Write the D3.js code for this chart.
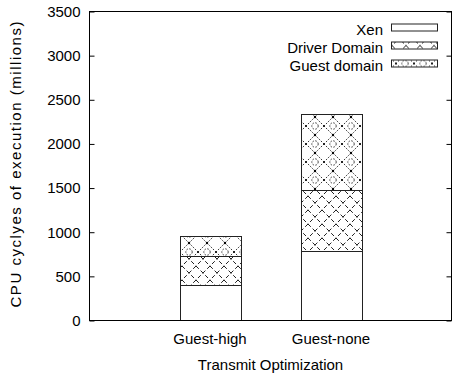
<!DOCTYPE html>
<html>
<head>
<meta charset="utf-8">
<script src="https://cdn.jsdelivr.net/npm/d3@7"></script>
<style>
body { margin: 0; background: #fff; }
text { font-family: "Liberation Sans", Arial, sans-serif; font-size: 15px; fill: #000; }
</style>
</head>
<body>
<script>
// data
var categories = ["Guest-high", "Guest-none"]
var seriesNames = ["Xen", "Driver Domain", "Guest domain"]
var xenVals = [396, 780]
var driverVals = [332, 690]
var guestVals = [223, 865]
var yTicks = [0, 500, 1000, 1500, 2000, 2500, 3000, 3500]

var svgWidth = 452
var svgHeight = 380
// note: "top" is a reserved window property, so use plot* names
var plotLeft = 89, plotRight = 452, plotTop = 11, plotBottom = 320

var svg = d3.select("body").append("svg")
    .attr("width", svgWidth)
    .attr("height", svgHeight)

var defs = svg.append("defs")

// driver domain: dashed cross hatch
var p1 = defs.append("pattern")
    .attr("id", "pat-driver")
    .attr("patternUnits", "userSpaceOnUse")
    .attr("width", 14).attr("height", 14)
p1.append("rect").attr("width", 14).attr("height", 14).attr("fill", "white")
p1.append("path")
    .attr("d", "M0,0 L14,14 M14,0 L0,14")
    .attr("stroke", "#222").attr("stroke-width", 1)
    .attr("stroke-dasharray", "4,2.5")

// guest domain: dotted diamond lattice with little rings
var p2 = defs.append("pattern")
    .attr("id", "pat-guest")
    .attr("patternUnits", "userSpaceOnUse")
    .attr("width", 18).attr("height", 18)
p2.append("rect").attr("width", 18).attr("height", 18).attr("fill", "white")
p2.append("path")
    .attr("d", "M0,0 L18,18 M18,0 L0,18")
    .attr("stroke", "#222").attr("stroke-width", 1)
    .attr("stroke-dasharray", "1.5,1.5")
p2.append("circle")
    .attr("cx", 9).attr("cy", 0).attr("r", 3.2)
    .attr("fill", "none").attr("stroke", "#333").attr("stroke-dasharray", "1.5,1.5")
p2.append("circle")
    .attr("cx", 9).attr("cy", 18).attr("r", 3.2)
    .attr("fill", "none").attr("stroke", "#333").attr("stroke-dasharray", "1.5,1.5")
p2.append("circle")
    .attr("cx", 9).attr("cy", 9).attr("r", 1.2).attr("fill", "#000")

var fills = ["white", "url(#pat-driver)", "url(#pat-guest)"]

var x = d3.scaleLinear().domain([-1, 2]).range([plotLeft, plotRight])
var y = d3.scaleLinear().domain([0, 3500]).range([plotBottom, plotTop])
var barW = x(0.5) - x(0)

// stack
var rows = categories.map(function(c, i) {
    return { cat: c, xen: xenVals[i], driver: driverVals[i], guest: guestVals[i] }
})
var stack = d3.stack().keys(["xen", "driver", "guest"])(rows)

stack.forEach(function(layer, li) {
    svg.append("g").selectAll("rect")
        .data(layer)
        .enter().append("rect")
        .attr("x", function(d, i) { return Math.round(x(i) - barW / 2) + 0.5 })
        .attr("width", Math.round(barW))
        .attr("y", function(d) { return Math.round(y(d[1])) + 0.5 })
        .attr("height", function(d) { return Math.round(y(d[0])) - Math.round(y(d[1])) })
        .attr("fill", fills[li])
        .attr("stroke", "#222")
        .attr("stroke-width", 1)
})

// axes (gnuplot style: ticks inside, mirrored)
var yAxisL = d3.axisLeft(y).tickValues(yTicks).tickSizeInner(-5).tickSizeOuter(0)
    .tickPadding(9).tickFormat(d3.format("d"))
var gy = svg.append("g").attr("transform", "translate(" + (plotLeft + 0.5) + ",0.5)").call(yAxisL)
gy.select(".domain").remove()
gy.selectAll("line").attr("stroke", "#000")
gy.attr("font-size", null).attr("font-family", null)

var yAxisR = d3.axisRight(y).tickValues(yTicks).tickSizeInner(-5).tickSizeOuter(0).tickFormat("")
var gyr = svg.append("g").attr("transform", "translate(" + (plotRight - 0.5) + ",0.5)").call(yAxisR)
gyr.select(".domain").remove()
gyr.selectAll("line").attr("stroke", "#000")

// frame
svg.append("rect")
    .attr("x", plotLeft + 0.5).attr("y", plotTop + 0.5)
    .attr("width", plotRight - plotLeft - 1).attr("height", plotBottom - plotTop)
    .attr("fill", "none").attr("stroke", "#000").attr("stroke-width", 1)

// category labels
svg.append("g").selectAll("text")
    .data(categories)
    .enter().append("text")
    .attr("x", function(d, i) { return x(i) })
    .attr("y", 344)
    .attr("text-anchor", "middle")
    .text(function(d) { return d })

svg.append("text")
    .attr("x", x(0.5))
    .attr("y", 370)
    .attr("text-anchor", "middle")
    .text("Transmit Optimization")

svg.append("text")
    .attr("transform", "translate(21," + ((plotTop + plotBottom) / 2 - 1) + ") rotate(-90)")
    .attr("text-anchor", "middle")
    .attr("textLength", 286)
    .attr("lengthAdjust", "spacing")
    .text("CPU cyclyes of execution (millions)")

// legend
var legend = svg.append("g").selectAll("g")
    .data(seriesNames)
    .enter().append("g")
    .attr("transform", function(d, i) { return "translate(0," + (27.5 + i * 18) + ")" })

legend.append("text")
    .attr("x", 383)
    .attr("y", 7)
    .attr("text-anchor", "end")
    .text(function(d) { return d })

legend.append("rect")
    .attr("x", 391.5).attr("y", -3.5)
    .attr("width", 46).attr("height", 7)
    .attr("fill", function(d, i) { return fills[i] })
    .attr("stroke", "#222")
</script>
</body>
</html>
